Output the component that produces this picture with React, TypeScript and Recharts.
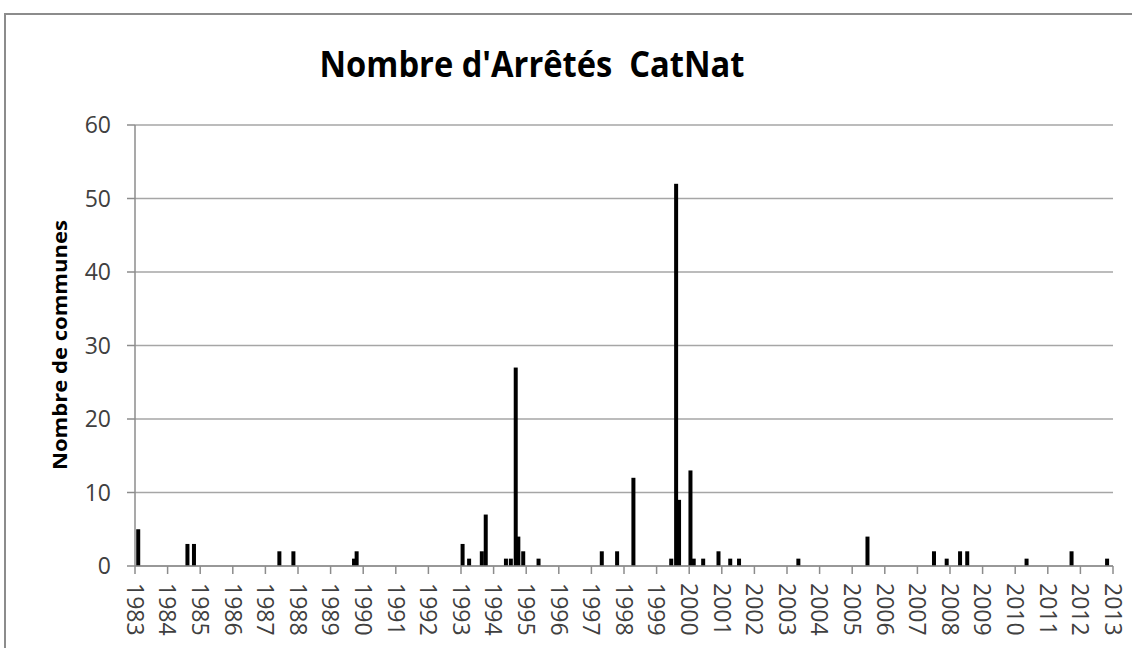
import React from "react";
import {
	ComposedChart,
	Bar,
	XAxis,
	YAxis,
	CartesianGrid,
} from "recharts";

// dates as fractional years
const dates = [
	1983.1, 1984.61, 1984.81, 1987.43, 1987.86, 1989.72, 1989.8, 1993.05,
	1993.25, 1993.64, 1993.76, 1994.38, 1994.53, 1994.68, 1994.76, 1994.91,
	1995.38, 1997.32, 1997.79, 1998.29, 1999.45, 1999.6, 1999.69, 2000.04,
	2000.14, 2000.43, 2000.9, 2001.26, 2001.53, 2003.35, 2005.47, 2007.51,
	2007.9, 2008.31, 2008.53, 2010.35, 2011.73, 2012.82,
];
const counts = [
	5, 3, 3, 2, 2, 1, 2, 3, 1, 2, 7, 1, 1, 27, 4, 2, 1, 2, 2, 12, 1, 52, 9, 13,
	1, 1, 2, 1, 1, 1, 4, 2, 1, 2, 2, 1, 2, 1,
];
const years = Array.from({ length: 31 }, (_, i) => 1983 + i);
const yTicks = [0, 10, 20, 30, 40, 50, 60];

const title = "Nombre d'Arrêtés  CatNat";
const yLabel = "Nombre de communes";

const chartData = dates.map((d, i) => ({ date: d, count: counts[i] }));

const FONT = "'Open Sans', sans-serif";
const GREY = "#8c8c8c";
const BAR_W = 4;

function YearTick({ x, y, payload }: any) {
	return (
		<g transform={`translate(${x},${y})`}>
			<text
				transform="rotate(90)"
				x={9}
				y={0}
				dy="0.36em"
				textAnchor="start"
				fontFamily={FONT}
				fontSize={23}
				fill="#404040"
			>
				{payload.value}
			</text>
		</g>
	);
}

// fixed-width bar centred on its date (recharts shrinks bars to the smallest gap)
function ThinBar(props: any) {
	const { x, y, width, height } = props;
	if (!height) return null;
	return (
		<rect
			x={x + width / 2 - BAR_W / 2}
			y={y}
			width={BAR_W}
			height={height}
			fill="#000"
		/>
	);
}

export default function App() {
	return (
		<div
			style={{
				position: "absolute",
				left: 0,
				top: 0,
				width: 1132,
				height: 648,
				background: "#fff",
				overflow: "hidden",
			}}
		>
			<div
				style={{
					position: "absolute",
					left: 4,
					top: 13,
					width: 1140,
					height: 650,
					borderLeft: `2px solid ${GREY}`,
					borderTop: `2px solid ${GREY}`,
				}}
			/>
			<svg
				width={1132}
				height={648}
				style={{ position: "absolute", left: 0, top: 0 }}
			>
				<text
					x={532}
					y={77}
					textAnchor="middle"
					fontFamily={FONT}
					fontWeight="bold"
					fontSize={35}
					textLength={425}
					lengthAdjust="spacingAndGlyphs"
					fill="#000"
					style={{ whiteSpace: "pre" }}
				>
					{title}
				</text>
				<text
					transform="translate(67,345) rotate(-90)"
					textAnchor="middle"
					fontFamily={FONT}
					fontWeight="bold"
					fontSize={20}
					textLength={250}
					lengthAdjust="spacingAndGlyphs"
					fill="#000"
				>
					{yLabel}
				</text>
			</svg>
			<div style={{ position: "absolute", left: 0, top: 0 }}>
				<ComposedChart
					width={1132}
					height={648}
					data={chartData}
					margin={{ top: 125, right: 19, bottom: 0, left: 60 }}
				>
					<CartesianGrid
						vertical={false}
						stroke="#a6a6a6"
						strokeWidth={1.5}
					/>
					<XAxis
						dataKey="date"
						type="number"
						domain={[1983, 2013]}
						ticks={years}
						interval={0}
						height={82}
						tickSize={8}
						tickMargin={0}
						axisLine={{ stroke: GREY, strokeWidth: 1.5 }}
						tickLine={{ stroke: GREY, strokeWidth: 1.5 }}
						tick={<YearTick />}
						allowDataOverflow
					/>
					<YAxis
						domain={[0, 60]}
						ticks={yTicks}
						width={75}
						tickSize={8}
						tickMargin={16}
						axisLine={{ stroke: GREY, strokeWidth: 1.5 }}
						tickLine={{ stroke: GREY, strokeWidth: 1.5 }}
						tick={{ fontFamily: FONT, fontSize: 23, fill: "#404040" }}
					/>
					<Bar
						dataKey="count"
						fill="#000"
						shape={<ThinBar />}
						isAnimationActive={false}
					/>
				</ComposedChart>
			</div>
		</div>
	);
}
